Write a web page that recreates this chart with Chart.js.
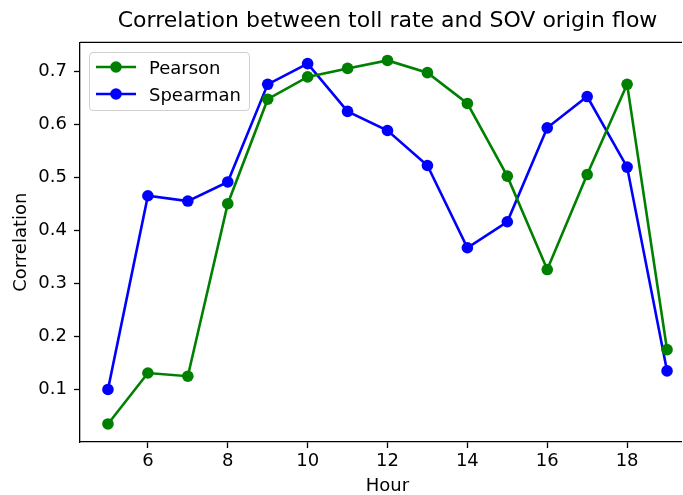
<!DOCTYPE html>
<html>
<head>
<meta charset="utf-8">
<script src="https://cdn.jsdelivr.net/npm/chart.js@4.4.1/dist/chart.umd.min.js"></script>
<style>
    html, body { margin: 0; padding: 0; background: #fff; overflow: hidden; }
    .viewport { position: relative; width: 682px; height: 495px; overflow: hidden; }
    .wrap { position: absolute; left: 0; top: 0; width: 775px; height: 495px; }
    .legend {
        position: absolute; left: 89px; top: 52px; width: 159px; height: 57px;
        border: 1px solid #d0d0d0; border-radius: 4px; background: rgba(255,255,255,0.85);
        font-family: "DejaVu Sans", sans-serif; font-size: 18px; color: #000;
    }
    .legend .item { position: absolute; left: 6px; height: 22px; display: flex; align-items: center; }
    .legend svg { margin-right: 13px; }
</style>
</head>
<body>
<div class="viewport">
<div class="wrap">
    <canvas id="myChart" width="775" height="495"></canvas>
    <div class="legend" id="legend"></div>
</div>
</div>
<script>
// data
const hours = [5, 6, 7, 8, 9, 10, 11, 12, 13, 14, 15, 16, 17, 18, 19];
const pearson = [0.035, 0.131, 0.125, 0.450, 0.647, 0.689, 0.705, 0.720, 0.697, 0.639, 0.502, 0.326, 0.505, 0.675, 0.175];
const spearman = [0.100, 0.465, 0.455, 0.491, 0.675, 0.714, 0.624, 0.588, 0.522, 0.367, 0.416, 0.593, 0.652, 0.519, 0.135];
const xTicks = [6, 8, 10, 12, 14, 16, 18];
const yTicks = [0.1, 0.2, 0.3, 0.4, 0.5, 0.6, 0.7];

const FONT = "'DejaVu Sans', sans-serif";

function toPoints(values) {
    return hours.map((h, i) => ({ x: h, y: values[i] }));
}

function series(label, values, color) {
    return {
        label: label,
        data: toPoints(values),
        borderColor: color,
        backgroundColor: color,
        borderWidth: 2.6,
        pointRadius: 5.8,
        pointHoverRadius: 5.8,
        pointBorderWidth: 0,
        tension: 0,
        clip: false,
    };
}

// top spine like matplotlib (right spine falls outside the window)
const framePlugin = {
    id: "frame",
    afterDraw(chart) {
        const { ctx, chartArea } = chart;
        ctx.save();
        ctx.strokeStyle = "#000";
        ctx.lineWidth = 1.3;
        ctx.beginPath();
        ctx.moveTo(chartArea.left, chartArea.top);
        ctx.lineTo(chartArea.right, chartArea.top);
        ctx.stroke();
        ctx.restore();
    },
};

const axisCommon = {
    type: "linear",
    grid: {
        drawOnChartArea: false,
        drawTicks: true,
        tickLength: 6,
        tickColor: "#000",
        tickWidth: 1.3,
    },
    border: { display: true, color: "#000", width: 1.3 },
};

const ctx = document.getElementById("myChart").getContext("2d");
const myChart = new Chart(ctx, {
    type: "line",
    data: {
        datasets: [
            series("Pearson", pearson, "#008000"),
            series("Spearman", spearman, "#0000ff"),
        ],
    },
    options: {
        responsive: false,
        devicePixelRatio: 1,
        animation: false,
        layout: { padding: { left: 0, right: 80, top: 0, bottom: 0 } },
        scales: {
            x: {
                ...axisCommon,
                min: 4.3,
                max: 19.7,
                afterBuildTicks: (s) => { s.ticks = xTicks.map((v) => ({ value: v })); },
                afterFit: (s) => { s.height = 53; },
                ticks: {
                    color: "#000",
                    padding: 3,
                    maxRotation: 0,
                    font: { family: FONT, size: 18 },
                    callback: (v) => String(v),
                },
                title: {
                    display: true,
                    text: "Hour",
                    color: "#000",
                    font: { family: FONT, size: 18, lineHeight: 1 },
                    padding: { top: 0, bottom: 0 },
                },
            },
            y: {
                ...axisCommon,
                min: 0.001,
                max: 0.754,
                afterBuildTicks: (s) => { s.ticks = yTicks.map((v) => ({ value: v })); },
                afterFit: (s) => { s.width = 80; },
                ticks: {
                    color: "#000",
                    padding: 7,
                    font: { family: FONT, size: 18 },
                    callback: (v) => v.toFixed(1),
                },
                title: {
                    display: true,
                    text: "Correlation",
                    color: "#000",
                    font: { family: FONT, size: 18, lineHeight: 1 },
                    padding: { top: 12, bottom: 0 },
                },
            },
        },
        plugins: {
            legend: { display: false },
            tooltip: { enabled: false },
            title: {
                display: true,
                fullSize: false,
                text: "Correlation between toll rate and SOV origin flow",
                color: "#000",
                font: { family: FONT, size: 22, weight: "normal", lineHeight: 1.2 },
                padding: { top: 8, bottom: 8 },
            },
        },
    },
    plugins: [framePlugin],
});

// html legend built from the datasets
const legendEl = document.getElementById("legend");
myChart.data.datasets.forEach((ds, i) => {
    const item = document.createElement("div");
    item.className = "item";
    item.style.top = (3 + i * 27) + "px";
    item.innerHTML =
        `<svg width="40" height="14"><line x1="0" y1="7" x2="40" y2="7" stroke="${ds.borderColor}" stroke-width="2.6"/>` +
        `<circle cx="20" cy="7" r="5.8" fill="${ds.borderColor}"/></svg><span>${ds.label}</span>`;
    legendEl.appendChild(item);
});
</script>
</body>
</html>
